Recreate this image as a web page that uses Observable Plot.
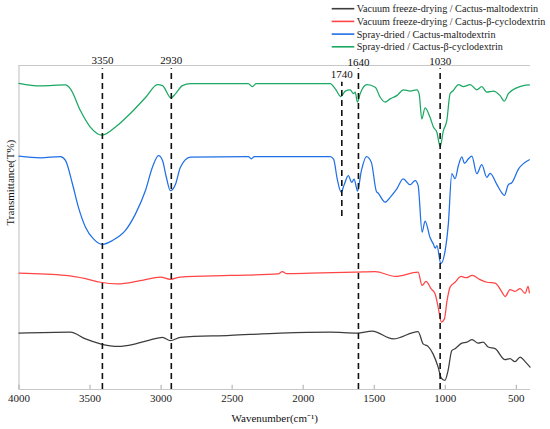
<!DOCTYPE html>
<html>
<head>
<meta charset="utf-8">
<script src="https://cdn.jsdelivr.net/npm/d3@7"></script>
<script src="https://cdn.jsdelivr.net/npm/@observablehq/plot@0.6"></script>
<style>
  html, body { margin: 0; padding: 0; background: #fff; }
  svg text { font-family: "Liberation Serif", serif; }
</style>
</head>
<body>
<div id="wrap"></div>
<script>
// Series names and colours
const seriesNames = [
  "Vacuum freeze-drying / Cactus-maltodextrin",
  "Vacuum freeze-drying / Cactus-β-cyclodextrin",
  "Spray-dried / Cactus-maltodextrin",
  "Spray-dried / Cactus-β-cyclodextrin"
];
const seriesColors = ["#3d3d3d", "#ff4545", "#1f6fe6", "#1aa862"];

// Wavenumber (cm-1) / transmittance (offset, arbitrary T%) per series
const blackWn = [4000,3638,3532,3427,3300,3180,3075,2990,2935,2864,2513,2160,1810,1620,1514,1366,1191,1156,1121,1086,1050,1029,1003,980,954,931,883,848,811,769,733,698,649,579,544,509,473,438,403];
const blackT  = [17.4,17.7,15.6,14.1,13.3,14.1,15.3,16.1,15.1,16.1,16.7,17.4,17.7,17.4,18.0,15.6,17.9,14.1,13.3,11.0,6.9,3.6,2.8,5.9,12.0,12.6,14.3,14.6,15.4,14.3,14.6,13.1,12.6,9.2,9.5,8.6,10.0,8.6,6.9];

const redWn = [4000,3673,3532,3427,3307,3146,3005,2935,2864,2513,2175,2147,2119,1950,1634,1493,1352,1191,1163,1135,1100,1071,1050,1027,1006,987,966,931,888,853,811,755,706,649,600,579,544,509,473,438,417,408];
const redT  = [35.9,35.2,34.2,33.1,32.6,33.6,34.7,34.0,34.7,35.2,35.7,36.4,35.8,35.9,36.2,36.4,34.9,36.2,32.1,33.4,31.1,29.5,25.4,20.8,21.8,27.5,31.6,33.1,34.9,34.5,35.2,33.9,33.1,32.8,30.0,28.7,30.8,30.3,31.1,29.7,31.8,29.9];

const blueWn = [4000,3849,3708,3673,3624,3582,3532,3476,3413,3342,3251,3180,3110,3061,3018,2990,2963,2935,2899,2864,2794,2386,2365,2344,1810,1786,1760,1732,1713,1682,1658,1642,1625,1618,1590,1555,1520,1485,1472,1423,1388,1341,1296,1247,1212,1191,1163,1142,1107,1083,1071,1059,1031,1001,978,954,931,907,883,865,837,813,778,743,708,684,637,602,584,556,532,485,408];
const blueT  = [72.0,71.5,71.9,70.7,63.5,56.3,50.1,46.5,44.8,46.0,49.1,54.2,61.4,68.6,72.2,70.7,65.5,61.4,63.3,68.6,71.7,71.9,71.2,71.9,71.9,71.1,64.9,60.9,63.0,66.0,63.9,64.9,62.3,61.2,67.6,71.9,70.1,61.2,60.6,57.8,59.3,61.9,65.0,63.2,64.5,63.0,48.6,52.0,46.9,44.8,43.6,44.4,38.9,42.8,51.2,66.6,65.1,69.2,71.8,69.8,71.2,72.0,66.6,69.4,65.5,66.7,63.3,60.7,59.9,63.2,63.8,68.0,70.9];

const greenWn = [4000,3849,3673,3638,3568,3498,3413,3321,3216,3108,3025,2990,2930,2898,2850,2793,2386,2358,2330,1810,1774,1734,1704,1669,1646,1634,1618,1599,1551,1493,1458,1423,1388,1341,1294,1247,1200,1184,1165,1142,1107,1083,1059,1036,1013,989,966,943,907,872,825,778,743,708,661,614,584,556,497,450,408];
const greenT  = [94.5,93.7,94.0,92.8,86.1,81.0,78.5,81.0,85.2,90.2,94.1,93.8,90.0,91.3,93.8,94.4,94.4,93.5,94.4,94.4,92.8,90.4,92.1,92.5,91.3,91.8,88.7,91.3,94.1,93.3,90.2,88.7,89.7,90.7,92.5,92.1,92.5,91.3,83.5,86.9,84.0,81.0,79.4,75.0,79.9,83.0,91.3,92.3,94.1,93.5,94.1,92.5,93.5,91.8,92.1,90.7,89.0,91.3,93.1,93.8,94.0];

// Marked bands
const markerPos    = [3413, 2928, 1728, 1611, 1036];
const markerLabel  = ["3350", "2930", "1740", "1640", "1030"];
const markerTop    = [99.0, 99.0, 94.8, 99.0, 99.0];
const markerBottom = [0, 0, 53.4, 0, 0];
const labelY       = [101.4, 101.4, 97.3, 100.9, 101.1];

const xTicks = [4000, 3500, 3000, 2500, 2000, 1500, 1000, 500];

const pairs = [[blackWn, blackT], [redWn, redT], [blueWn, blueT], [greenWn, greenT]];
const rows = [];
pairs.forEach(([wn, t], i) => wn.forEach((w, j) => rows.push({series: seriesNames[i], wn: w, t: t[j]})));
const markers = markerPos.map((p, i) => ({pos: p, label: markerLabel[i], top: markerTop[i], bottom: markerBottom[i], ly: labelY[i]}));

const serif = "'Liberation Serif', serif";
const frameColor = "#c8c8c8";
const chart = Plot.plot({
  width: 550,
  height: 429,
  marginTop: 65,
  marginBottom: 40,
  marginLeft: 18.5,
  marginRight: 20,
  style: {fontFamily: serif, fontSize: "11px", color: "#222", background: "#fff"},
  x: {domain: [4000, 400]},
  y: {domain: [0, 100], axis: null},
  color: {domain: seriesNames, range: seriesColors},
  marks: [
    Plot.ruleY([0], {stroke: frameColor, strokeWidth: 1.2}),
    Plot.ruleY([100], {stroke: frameColor, strokeWidth: 1.2}),
    Plot.ruleX([4000], {stroke: frameColor, strokeWidth: 1.2}),
    Plot.ruleX(xTicks, {x: d => d, y1: 0, y2: 1.3, stroke: "#aaa"}),
    Plot.axisX({ticks: xTicks, tickSize: 0, tickPadding: 5, tickFormat: d => String(d), label: null, fontSize: 11, fontFamily: serif, fill: "#222"}),
    Plot.lineY(rows, {x: "wn", y: "t", z: "series", stroke: "series", strokeWidth: 1.25, curve: "monotone-x"}),
    Plot.ruleX(markers, {x: "pos", y1: "bottom", y2: "top", stroke: "#111", strokeWidth: 1.6, strokeDasharray: "6,4"}),
    Plot.text(markers, {x: "pos", y: "ly", text: "label", fill: "#111", fontSize: 11, fontFamily: serif}),
    Plot.text(["Wavenumber(cm⁻¹)"], {frameAnchor: "bottom", dy: 32, fill: "#111", fontSize: 11, fontFamily: serif}),
    Plot.text(["Transmittance(T%)"], {frameAnchor: "left", rotate: -90, dx: -8.5, dy: -2, fill: "#111", fontSize: 11, fontFamily: serif})
  ]
});
document.getElementById("wrap").append(chart);

// Legend (top right, above the frame)
const svg = d3.select(chart);
const lg = svg.append("g").attr("class", "legend-box").attr("text-anchor", "start");
const items = lg.selectAll("g").data(seriesNames).join("g")
  .attr("transform", (d, i) => `translate(331.7, ${8.7 + i * 12.7})`);
items.append("line").attr("x1", 0).attr("x2", 22.6).attr("y1", 0).attr("y2", 0)
  .attr("stroke", (d, i) => seriesColors[i]).attr("stroke-width", 1.6);
const labels = items.append("text").attr("x", 25).attr("y", 0).attr("dy", "0.34em")
  .attr("text-anchor", "start")
  .attr("fill", "#222").attr("font-family", serif).attr("font-size", 10).text(d => d);
// fit legend text so the widest entry spans the same width as in the reference
let widest = 0;
labels.each(function() { widest = Math.max(widest, this.getComputedTextLength()); });
if (widest > 0) labels.attr("font-size", (10 * 189 / widest).toFixed(2));
</script>
</body>
</html>
